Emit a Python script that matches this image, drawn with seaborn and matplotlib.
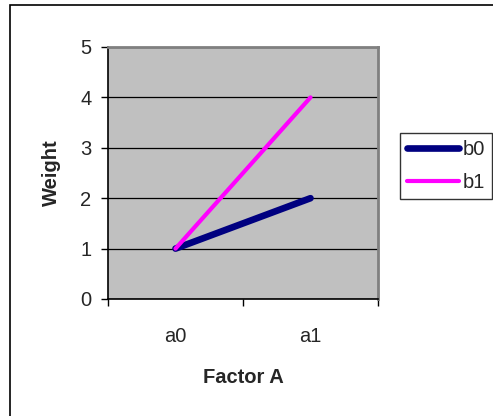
import matplotlib
matplotlib.use('Agg')
import matplotlib.pyplot as plt
import numpy as np
import pandas as pd
import seaborn as sns
from matplotlib.patches import Rectangle

# data
factor_a    =   ['a0', 'a1']
b0_weight   =   [1, 2]
b1_weight   =   [1, 4]
groups      =   ['b0', 'b1']
y_ticks     =   [0, 1, 2, 3, 4, 5]

df = pd.DataFrame({
    'Factor A': factor_a * 2,
    'Weight': b0_weight + b1_weight,
    'group': [groups[0]] * 2 + [groups[1]] * 2,
})
df['x'] = df['Factor A'].map({k: i for i, k in enumerate(factor_a)})

sns.set_theme(style='white')
plt.rcParams['font.family'] = ['Liberation Sans', 'DejaVu Sans']

W, H = 493, 416
fig = plt.figure(figsize=(W / 100, H / 100), dpi=100)
fig.patches.append(Rectangle((10 / W, -0.1), 1, 1.1 - 5 / H, transform=fig.transFigure,
                             fill=False, edgecolor='black', lw=1.2, clip_on=False))

ax = fig.add_axes([108 / W, (H - 299) / H, 270 / W, 252 / H])
ax.set_facecolor('#C0C0C0')

palette = {'b0': '#000080', 'b1': '#FF00FF'}
sizes = {'b0': 4.8, 'b1': 3.0}
for g in groups:
    sub = df[df['group'] == g]
    sns.lineplot(data=sub, x='x', y='Weight', color=palette[g], lw=sizes[g],
                 solid_capstyle='round', label=g, ax=ax, zorder=3)

fs = 14.5
ax.set_xlim(-0.5, 1.5)
ax.set_ylim(0, 5)
ax.set_yticks(y_ticks)
ax.set_xticks([0, 1])
ax.set_xticklabels(factor_a)
ax.set_xticks([-0.5, 0.5, 1.5], minor=True)
ax.tick_params(axis='x', which='major', length=0, pad=20, labelsize=fs)
ax.tick_params(axis='x', which='minor', length=5, width=1, color='black', bottom=True)
ax.tick_params(axis='y', length=5, width=1, color='black', left=True, labelsize=fs, pad=7)
ax.yaxis.grid(True, color='black', lw=0.9)
ax.set_axisbelow(True)

for s in ['left', 'bottom']:
    ax.spines[s].set_color('black')
    ax.spines[s].set_linewidth(1.2)
for s in ['top', 'right']:
    ax.spines[s].set_color('#808080')
    ax.spines[s].set_linewidth(2)

ax.set_xlabel('Factor A', fontsize=fs, fontweight='bold', labelpad=16)
ax.set_ylabel('Weight', fontsize=fs, fontweight='bold', labelpad=14)

leg = ax.legend(loc='upper left', bbox_to_anchor=(400 / W, (H - 133) / H),
                bbox_transform=fig.transFigure, frameon=True, fancybox=False,
                fontsize=fs, handlelength=2.6, handletextpad=0.15,
                borderaxespad=0, borderpad=0.35, labelspacing=0.7)
leg.get_frame().set_edgecolor('black')
leg.get_frame().set_linewidth(1.0)

fig.savefig('out.png', dpi=100)
